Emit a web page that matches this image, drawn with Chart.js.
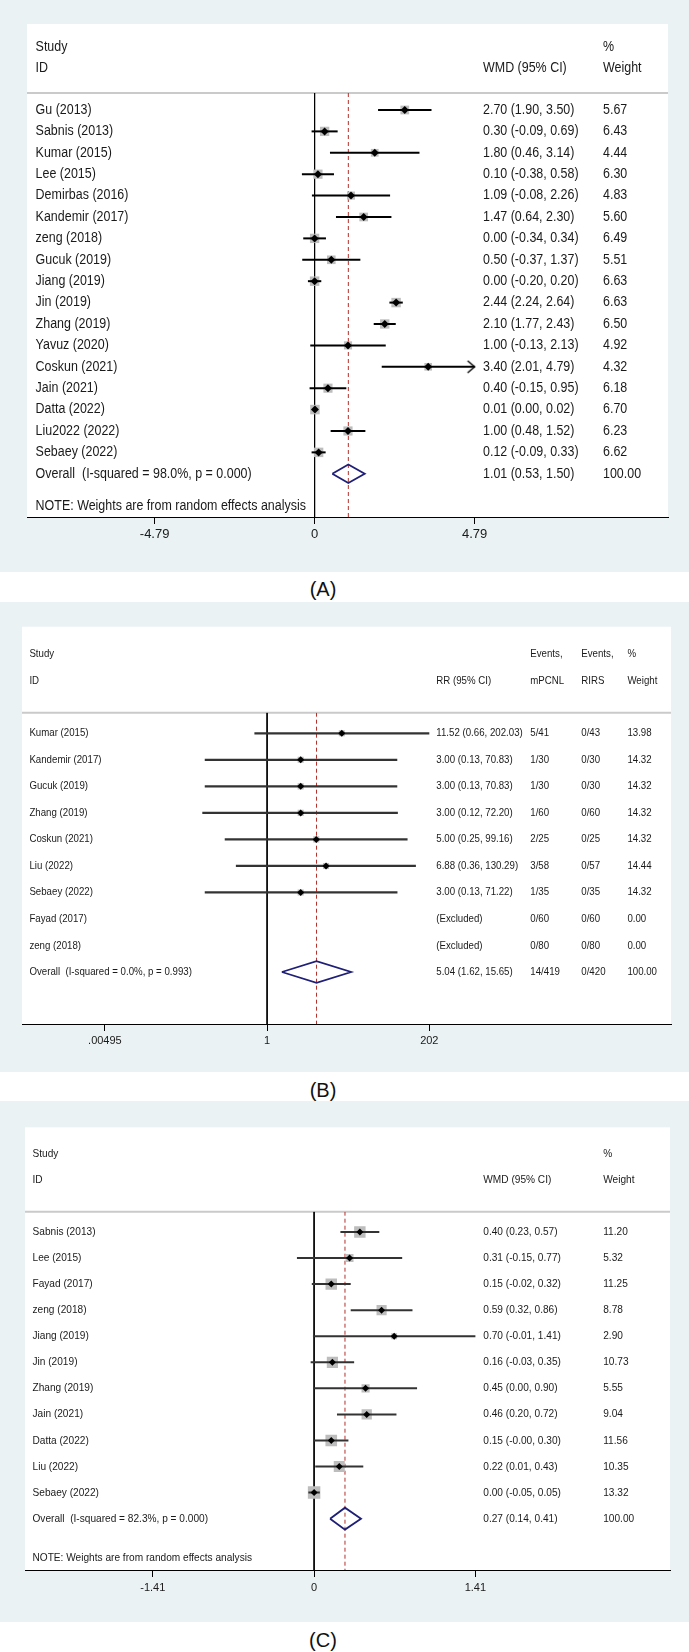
<!DOCTYPE html>
<html>
<head>
<meta charset="utf-8">
<script src="https://cdn.jsdelivr.net/npm/chart.js@4.4.0/dist/chart.umd.min.js"></script>
<style>
body{margin:0;background:#fff;width:689px;height:1652px;position:relative;overflow:hidden;font-family:"Liberation Sans",Arial,sans-serif}
canvas{position:absolute;left:0;background:#eaf2f3}
.lab{position:absolute;left:0;width:646px;text-align:center;font-size:20px;line-height:24px;color:#111}
</style>
</head>
<body>
<canvas id="chartA" width="689" height="572" style="top:0"></canvas>
<div class="lab" style="top:577px">(A)</div>
<canvas id="chartB" width="689" height="470" style="top:602px"></canvas>
<div class="lab" style="top:1078px">(B)</div>
<canvas id="chartC" width="689" height="521" style="top:1101px"></canvas>
<div class="lab" style="top:1628px">(C)</div>
<script>
// ---- panel A : WMD ----
const studiesA = ['Gu (2013)', 'Sabnis (2013)', 'Kumar (2015)', 'Lee (2015)', 'Demirbas (2016)', 'Kandemir (2017)',
    'zeng (2018)', 'Gucuk (2019)', 'Jiang (2019)', 'Jin (2019)', 'Zhang (2019)', 'Yavuz (2020)', 'Coskun (2021)',
    'Jain (2021)', 'Datta (2022)', 'Liu2022 (2022)', 'Sebaey (2022)'];
const wmdA = [2.70, 0.30, 1.80, 0.10, 1.09, 1.47, 0.00, 0.50, 0.00, 2.44, 2.10, 1.00, 3.40, 0.40, 0.01, 1.00, 0.12];
const lowA = [1.90, -0.09, 0.46, -0.38, -0.08, 0.64, -0.34, -0.37, -0.20, 2.24, 1.77, -0.13, 2.01, -0.15, 0.00, 0.48, -0.09];
const highA = [3.50, 0.69, 3.14, 0.58, 2.26, 2.30, 0.34, 1.37, 0.20, 2.64, 2.43, 2.13, 4.79, 0.95, 0.02, 1.52, 0.33];
const weightA = [5.67, 6.43, 4.44, 6.30, 4.83, 5.60, 6.49, 5.51, 6.63, 6.63, 6.50, 4.92, 4.32, 6.18, 6.70, 6.23, 6.62];
const arrowA = ['Coskun (2021)'];
const overallA = [1.01, 0.53, 1.50];
const hetA = [98.0, 0.000];
const ticksA = [-4.79, 0, 4.79];
const tickTextA = ['-4.79', '0', '4.79'];

// ---- panel B : RR ----
const studiesB = ['Kumar (2015)', 'Kandemir (2017)', 'Gucuk (2019)', 'Zhang (2019)', 'Coskun (2021)', 'Liu (2022)',
    'Sebaey (2022)', 'Fayad (2017)', 'zeng (2018)'];
const rrB = [11.52, 3.00, 3.00, 3.00, 5.00, 6.88, 3.00, null, null];
const lowB = [0.66, 0.13, 0.13, 0.12, 0.25, 0.36, 0.13, null, null];
const highB = [202.03, 70.83, 70.83, 72.20, 99.16, 130.29, 71.22, null, null];
const eventsPcnlB = [5, 1, 1, 1, 2, 3, 1, 0, 0];
const totalPcnlB = [41, 30, 30, 60, 25, 58, 35, 60, 80];
const eventsRirsB = [0, 0, 0, 0, 0, 0, 0, 0, 0];
const totalRirsB = [43, 30, 30, 60, 25, 57, 35, 60, 80];
const weightB = [13.98, 14.32, 14.32, 14.32, 14.32, 14.44, 14.32, 0.00, 0.00];
const overallB = [5.04, 1.62, 15.65];
const hetB = [0.0, 0.993];
const ticksB = [0.00495, 1, 202];
const tickTextB = ['.00495', '1', '202'];

// ---- panel C : WMD ----
const studiesC = ['Sabnis (2013)', 'Lee (2015)', 'Fayad (2017)', 'zeng (2018)', 'Jiang (2019)', 'Jin (2019)',
    'Zhang (2019)', 'Jain (2021)', 'Datta (2022)', 'Liu (2022)', 'Sebaey (2022)'];
const wmdC = [0.40, 0.31, 0.15, 0.59, 0.70, 0.16, 0.45, 0.46, 0.15, 0.22, 0.00];
const lowC = [0.23, -0.15, -0.02, 0.32, -0.01, -0.03, 0.00, 0.20, -0.002, 0.01, -0.05];
const highC = [0.57, 0.77, 0.32, 0.86, 1.41, 0.35, 0.90, 0.72, 0.30, 0.43, 0.05];
const weightC = [11.20, 5.32, 11.25, 8.78, 2.90, 10.73, 5.55, 9.04, 11.56, 10.35, 13.32];
const overallC = [0.27, 0.14, 0.41];
const hetC = [82.3, 0.000];
const ticksC = [-1.41, 0, 1.41];
const tickTextC = ['-1.41', '0', '1.41'];

const FONT = '"Liberation Sans", Arial, sans-serif';
const W = 689;
const note = 'NOTE: Weights are from random effects analysis';

function fmt(v) { return v.toFixed(2); }
function ciText(e, l, h) { return e == null ? '(Excluded)' : fmt(e) + ' (' + fmt(l) + ', ' + fmt(h) + ')'; }
function hetText(h) { return 'Overall  (I-squared = ' + h[0].toFixed(1) + '%, p = ' + h[1].toFixed(3) + ')'; }

// stata text is a bit narrower than arial, so squeeze it
function drawText(ctx, s, x, y, size, sx) {
    ctx.save();
    ctx.font = size + 'px ' + FONT;
    ctx.fillStyle = '#1a1a1a';
    ctx.textAlign = 'left';
    ctx.textBaseline = 'middle';
    ctx.translate(x, y);
    ctx.scale(sx, 1);
    ctx.fillText(s, 0, 0);
    ctx.restore();
}

function arrowHead() {
    let c = document.createElement('canvas');
    c.width = 20; c.height = 14;
    let g = c.getContext('2d');
    g.strokeStyle = '#000';
    g.lineWidth = 1.4;
    g.beginPath();
    g.moveTo(3, 1); g.lineTo(10, 7); g.lineTo(3, 13);
    g.stroke();
    return c;
}

function forest(id, L, rows, overall) {
    let ds = [];
    let n = rows.length + 1; // overall row
    // null line + overall dashed line
    ds.push({ data: [{ x: L.nullX, y: L.yMin }, { x: L.nullX, y: L.yMax }], showLine: true,
        borderColor: '#000', borderWidth: 1, pointRadius: 0, order: 9 });
    ds.push({ data: [{ x: overall.est, y: L.yMin }, { x: overall.est, y: L.yMax }], showLine: true,
        borderColor: '#b5302a', borderWidth: 1, borderDash: [4, 3], pointRadius: 0, order: 8 });

    let marked = rows.map((r, i) => Object.assign({ row: i + 1 }, r)).filter(r => r.est != null);
    ds.push({ data: marked.map(r => ({ x: r.est, y: r.row })), pointStyle: 'rect',
        pointRadius: marked.map(r => L.sqK * Math.sqrt(r.w) / Math.SQRT2),
        backgroundColor: '#bdbdbd', borderWidth: 0, order: 7 });
    marked.forEach(r => {
        ds.push({ data: [{ x: r.lo, y: r.row }, { x: r.hi, y: r.row }], showLine: true,
            borderColor: L.ciColor, borderWidth: L.ciW, pointRadius: 0, order: 6 });
    });
    ds.push({ data: marked.map(r => ({ x: r.est, y: r.row })), pointStyle: 'rectRot',
        pointRadius: L.markR, backgroundColor: '#000', borderWidth: 0, order: 5 });
    let arrows = marked.filter(r => r.arrow);
    if (arrows.length) {
        ds.push({ data: arrows.map(r => ({ x: r.hi, y: r.row })), pointStyle: arrowHead(),
            pointRadius: 5, order: 4 });
    }
    // overall diamond
    ds.push({ data: [
            { x: overall.lo, y: n }, { x: overall.est, y: n - L.dH }, { x: overall.hi, y: n },
            { x: overall.est, y: n + L.dH }, { x: overall.lo, y: n }],
        showLine: true, borderColor: '#1f1f78', borderWidth: 1.8, pointRadius: 0, order: 3 });

    let textPlugin = {
        id: 'forestText',
        beforeDraw(chart) {
            let ctx = chart.ctx, ca = chart.chartArea, ys = chart.scales.y;
            ctx.save();
            ctx.fillStyle = '#fff';
            ctx.fillRect(L.boxL, L.boxT, L.boxR - L.boxL, ca.bottom - L.boxT);
            ctx.strokeStyle = '#cacaca';
            ctx.lineWidth = 2;
            ctx.beginPath();
            ctx.moveTo(L.boxL, ca.top);
            ctx.lineTo(L.boxR, ca.top);
            ctx.stroke();
            ctx.restore();
            L.header.forEach(h => drawText(ctx, h[0], h[1], h[2], L.fs, L.sx));
            rows.concat([overall]).forEach((r, i) => {
                let y = ys.getPixelForValue(i + 1);
                drawText(ctx, r.name, L.nameX, y, L.fs, L.sx);
                r.cells.forEach((c, j) => drawText(ctx, c, L.cols[j], y, L.fs, L.sx));
            });
            if (L.noteRow) drawText(ctx, note, L.nameX, ys.getPixelForValue(L.noteRow), L.fs, L.sx);
        }
    };

    new Chart(document.getElementById(id), {
        type: 'scatter',
        data: { datasets: ds },
        options: {
            responsive: false,
            animation: false,
            devicePixelRatio: 1,
            layout: { padding: { left: L.boxL, right: W - L.boxR, top: L.sepY, bottom: L.h - L.axisY - 30 } },
            plugins: { legend: { display: false }, tooltip: { enabled: false } },
            scales: {
                x: {
                    type: L.xType, min: L.xMin, max: L.xMax, bounds: 'data',
                    afterBuildTicks: s => { s.ticks = L.ticks.map(v => ({ value: v })); },
                    afterFit: s => { s.height = 30; },
                    ticks: { callback: (v, i) => L.tickText[i], font: { size: L.tickFs, family: FONT },
                        color: '#1a1a1a', padding: L.tickPad, maxRotation: 0, autoSkip: false },
                    grid: { drawOnChartArea: false, tickLength: 7, color: '#000', lineWidth: 1 },
                    border: { color: '#000', width: 1 }
                },
                y: { type: 'linear', reverse: true, display: false, min: L.yMin, max: L.yMax }
            }
        },
        plugins: [textPlugin]
    });
}

// panel A
forest('chartA', {
    h: 572, boxL: 27, boxR: 668, boxT: 24, sepY: 93, axisY: 517,
    xType: 'linear', xMin: -8.611, xMax: 10.581, nullX: 0, yMin: 0.206, yMax: 20.02,
    ticks: ticksA, tickText: tickTextA, tickFs: 13, tickPad: 3,
    fs: 14, sx: 0.89, nameX: 35.6, cols: [483, 603], noteRow: 19.5,
    header: [['Study', 35.6, 47], ['ID', 35.6, 68], ['WMD (95% CI)', 483, 68], ['%', 603, 47], ['Weight', 603, 68]],
    sqK: 3.67, ciColor: '#000', ciW: 2, markR: 4, dH: 0.43
}, studiesA.map((s, i) => ({
    name: s, est: wmdA[i], lo: lowA[i], hi: highA[i], w: weightA[i], arrow: arrowA.includes(s),
    cells: [ciText(wmdA[i], lowA[i], highA[i]), fmt(weightA[i])]
})), {
    name: hetText(hetA), est: overallA[0], lo: overallA[1], hi: overallA[2],
    cells: [ciText(overallA[0], overallA[1], overallA[2]), fmt(100)]
});

// panel B
const sum = a => a.reduce((p, c) => p + c, 0);
forest('chartB', {
    h: 470, boxL: 22, boxR: 671, boxT: 24.7, sepY: 110.7, axisY: 422,
    xType: 'logarithmic', xMin: Math.pow(10, -3.4835), xMax: Math.pow(10, 5.7405), nullX: 1, yMin: 0.223, yMax: 11.96,
    ticks: ticksB, tickText: tickTextB, tickFs: 11, tickPad: 3,
    fs: 11, sx: 0.88, nameX: 29.4, cols: [436.3, 530.3, 581.3, 627.4], noteRow: null,
    header: [['Study', 29.4, 52.3], ['ID', 29.4, 78.7], ['RR (95% CI)', 436.3, 78.7],
        ['Events,', 530.3, 52.3], ['mPCNL', 530.3, 78.7], ['Events,', 581.3, 52.3], ['RIRS', 581.3, 78.7],
        ['%', 627.4, 52.3], ['Weight', 627.4, 78.7]],
    sqK: 1.6, ciColor: '#333', ciW: 2.2, markR: 3.5, dH: 0.41
}, studiesB.map((s, i) => ({
    name: s, est: rrB[i], lo: lowB[i], hi: highB[i], w: weightB[i], arrow: false,
    cells: [ciText(rrB[i], lowB[i], highB[i]), eventsPcnlB[i] + '/' + totalPcnlB[i],
        eventsRirsB[i] + '/' + totalRirsB[i], fmt(weightB[i])]
})), {
    name: hetText(hetB), est: overallB[0], lo: overallB[1], hi: overallB[2],
    cells: [ciText(overallB[0], overallB[1], overallB[2]), sum(eventsPcnlB) + '/' + sum(totalPcnlB),
        sum(eventsRirsB) + '/' + sum(totalRirsB), fmt(100)]
});

// panel C
forest('chartC', {
    h: 521, boxL: 25, boxR: 670, boxT: 26.3, sepY: 110.7, axisY: 469,
    xType: 'linear', xMin: -2.527, xMax: 3.111, nullX: 0, yMin: 0.221, yMax: 13.97,
    ticks: ticksC, tickText: tickTextC, tickFs: 11, tickPad: 4,
    fs: 11, sx: 0.92, nameX: 32.5, cols: [483.3, 603.2], noteRow: 13.5,
    header: [['Study', 32.5, 53], ['ID', 32.5, 79], ['WMD (95% CI)', 483.3, 79], ['%', 603.2, 53], ['Weight', 603.2, 79]],
    sqK: 3.42, ciColor: '#333', ciW: 2, markR: 3.5, dH: 0.42
}, studiesC.map((s, i) => ({
    name: s, est: wmdC[i], lo: lowC[i], hi: highC[i], w: weightC[i], arrow: false,
    cells: [ciText(wmdC[i], lowC[i], highC[i]), fmt(weightC[i])]
})), {
    name: hetText(hetC), est: overallC[0], lo: overallC[1], hi: overallC[2],
    cells: [ciText(overallC[0], overallC[1], overallC[2]), fmt(100)]
});
</script>
</body>
</html>
